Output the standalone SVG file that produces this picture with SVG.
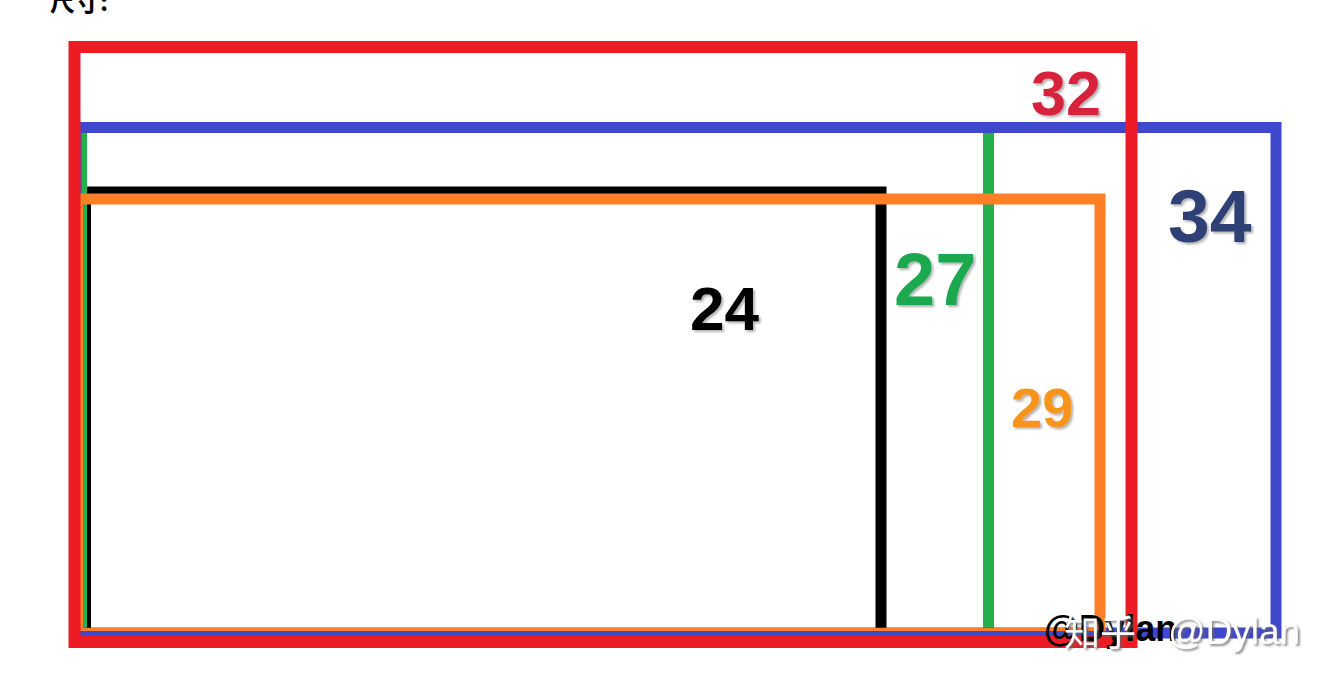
<svg xmlns="http://www.w3.org/2000/svg" width="1337" height="694" viewBox="0 0 1337 694">
  <defs>
    <style>
      .frame { fill: none; stroke-width: 11; stroke-linejoin: miter; stroke-linecap: butt; }
      .num { font-family: "Liberation Sans", Arial, sans-serif; font-weight: bold; filter: url(#shadow); }
      .wm { font-family: "Liberation Sans", "Noto Sans CJK SC", sans-serif; }
    </style>
    <filter id="shadow" x="-20%" y="-20%" width="150%" height="150%">
      <feDropShadow dx="2" dy="2" stdDeviation="1.2" flood-color="#000000" flood-opacity="0.3"/>
    </filter>
    <filter id="wmshadow" x="-10%" y="-20%" width="130%" height="150%">
      <feDropShadow dx="2" dy="2" stdDeviation="0.8" flood-color="#666666" flood-opacity="0.75"/>
    </filter>
  </defs>
  <rect x="0" y="0" width="1337" height="694" fill="#ffffff"/>

  <text id="title" x="50" y="11" font-family="'Noto Sans CJK SC', sans-serif" font-size="25" font-weight="bold" fill="#000000">尺寸:</text>

  <g id="box-24">
    <path class="frame" stroke="#000000" d="M85.5,634 V192 H881 V634"/>
    <text class="num" x="690" y="330" font-size="62" fill="#000000">24</text>
  </g>

  <g id="box-27">
    <path class="frame" stroke="#22B14C" d="M81.5,634 V127.5 H988.5 V634"/>
    <text class="num" x="894" y="305" font-size="74" fill="#1AA84F">27</text>
  </g>

  <g id="box-34">
    <rect class="frame" stroke="#3F48CC" x="76" y="127.5" width="1200" height="505.5"/>
    <text class="num" x="1168" y="241.5" font-size="75" fill="#2F3F74">34</text>
  </g>

  <g id="box-29">
    <path class="frame" stroke="#FF7F27" d="M77.5,631 V199 H1100 V631"/>
    <path fill="none" stroke="#FF7F27" stroke-width="3" d="M72,629.5 H1105.5"/>
    <text class="num" x="1011" y="427" font-size="56" fill="#F7941D">29</text>
  </g>

  <g id="box-32">
    <rect fill="none" stroke="#ED1C24" stroke-width="12" x="74.5" y="47" width="1057" height="595"/>
    <text class="num" x="1031" y="115" font-size="63" fill="#D7203B">32</text>
  </g>

  <g id="watermark">
    <text class="wm" x="1044" y="641" font-size="36" font-weight="bold" fill="#000000">@Dylan</text>
    <text class="wm" x="1064" y="646" font-size="36" fill="#ffffff" filter="url(#wmshadow)">知乎<tspan x="1168" y="644" font-size="37" textLength="132">@Dylan</tspan></text>
  </g>
</svg>
